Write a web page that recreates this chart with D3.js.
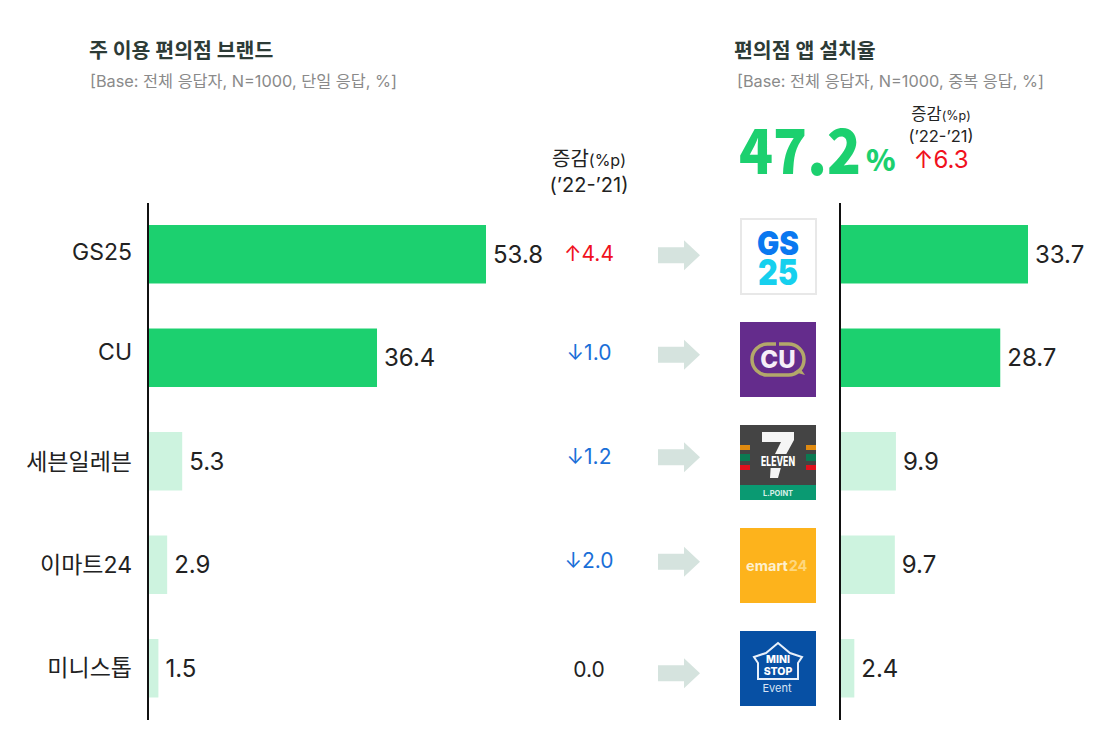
<!DOCTYPE html>
<html lang="ko">
<head>
<meta charset="UTF-8">
<title>편의점 브랜드</title>
<script src="https://d3js.org/d3.v7.min.js"></script>
<style>
  html, body { margin: 0; background: #fff; }
  svg { display: block; }
  text { font-family: Inter, "Noto Sans CJK KR", sans-serif; }
  text.big { font-family: "Noto Sans CJK KR", sans-serif; font-weight: 900; }
</style>
</head>
<body>
<svg id="chart" width="1116" height="730"></svg>
<script>
// values
const brands = ["GS25", "CU", "세븐일레븐", "이마트24", "미니스톱"];
const mainUse = [53.8, 36.4, 5.3, 2.9, 1.5];
const appInstall = [33.7, 28.7, 9.9, 9.7, 2.4];
const changes = [4.4, -1.0, -1.2, -2.0, 0.0];
const highlighted = ["GS25", "CU"];

const green = "#1cd06f", pale = "#cdf3df", ink = "#222", red = "#f0111d", blue = "#1a6fd8";
const svg = d3.select("#chart");

const y = d3.scaleBand().domain(brands).range([202.5, 720]).paddingInner(0.435).paddingOuter(0.2175);
const mid = d => y(d) + y.bandwidth() / 2;
const xLeft = d3.scaleLinear().domain([0, 53.8]).range([149, 486]);
const xRight = d3.scaleLinear().domain([0, 33.7]).range([841, 1028]);
const barFill = d => highlighted.includes(d) ? green : pale;

function bars(values, x) {
  const g = svg.append("g");
  g.selectAll("rect").data(brands).join("rect")
    .attr("x", x(0)).attr("y", d => y(d))
    .attr("width", (d, i) => x(values[i]) - x(0))
    .attr("height", y.bandwidth())
    .attr("fill", barFill);
  g.selectAll("text").data(brands).join("text")
    .attr("x", (d, i) => x(values[i]) + 7)
    .attr("y", d => mid(d) + 2)
    .attr("dominant-baseline", "middle")
    .attr("font-size", 24).attr("fill", ink)
    .text((d, i) => values[i].toFixed(1));
  // axis line only, no ticks
  g.append("line").attr("x1", x(0) - 1).attr("x2", x(0) - 1)
    .attr("y1", 203).attr("y2", 720)
    .attr("stroke", "#111").attr("stroke-width", 2);
}
bars(mainUse, xLeft);
bars(appInstall, xRight);

// brand names, the original labels sit a little off their bars
const brandNudge = [-1, -4, 2, 2, 1];
svg.append("g").selectAll("text").data(brands).join("text")
  .attr("x", 132).attr("y", (d, i) => mid(d) + brandNudge[i])
  .attr("text-anchor", "end").attr("dominant-baseline", "middle")
  .attr("font-size", 23).attr("fill", ink).text(d => d);

// titles
function title(x, subX, main, sub) {
  svg.append("text").attr("x", x).attr("y", 58).attr("font-size", 20.5)
    .attr("font-weight", 700).attr("fill", "#2d3b36").text(main);
  svg.append("text").attr("x", subX).attr("y", 87).attr("font-size", 16.3)
    .attr("fill", "#8a8a8a").text(sub);
}
title(89, 90, "주 이용 편의점 브랜드", "[Base: 전체 응답자, N=1000, 단일 응답, %]");
title(734, 737, "편의점 앱 설치율", "[Base: 전체 응답자, N=1000, 중복 응답, %]");

// change column
function changeHead(cx, y1, y2, size) {
  const t = svg.append("text").attr("x", cx).attr("y", y1).attr("text-anchor", "middle")
    .attr("font-size", size).attr("fill", ink);
  t.append("tspan").text("증감");
  t.append("tspan").attr("font-size", size - 4).text("(%p)");
  svg.append("text").attr("x", cx).attr("y", y2).attr("text-anchor", "middle")
    .attr("font-size", size).attr("fill", ink).text("(’22-’21)");
}
changeHead(589, 166, 192, 20);
changeHead(941, 120, 142, 16.5);

const changeNudge = [1, -3, -3, -2, 3];
const changeText = v => (v > 0 ? "↑" : v < 0 ? "↓" : "") + Math.abs(v).toFixed(1);
svg.append("g").selectAll("text").data(changes).join("text")
  .attr("x", 589).attr("y", (d, i) => mid(brands[i]) + changeNudge[i])
  .attr("text-anchor", "middle").attr("dominant-baseline", "middle")
  .attr("font-size", 21)
  .attr("fill", d => d > 0 ? red : d < 0 ? blue : ink)
  .text(changeText);

// big number
svg.append("text").attr("class", "big").attr("x", 739).attr("y", 174).attr("font-size", 61)
  .attr("textLength", 122).attr("lengthAdjust", "spacingAndGlyphs")
  .attr("fill", green).text("47.2");
svg.append("text").attr("class", "big").attr("x", 866).attr("y", 171).attr("font-size", 30)
  .attr("fill", green).text("%");
svg.append("text").attr("x", 941).attr("y", 168).attr("text-anchor", "middle")
  .attr("font-size", 24).attr("fill", red).text("↑6.3");

// block arrows between the two panels
const arrowNudge = [1, -3, -4, -3, 5];
svg.append("g").selectAll("path").data(brands).join("path")
  .attr("d", (b, i) => {
    const c = mid(b) + arrowNudge[i];
    return d3.line()([[658, c - 8], [684, c - 8], [684, c - 15], [700, c], [684, c + 15], [684, c + 8], [658, c + 8]]) + "Z";
  })
  .attr("fill", "#d5e3de");

// logos
const logoNudge = [0, 0, 0, -1, -1];
const logo = i => svg.append("g").attr("transform", `translate(740,${Math.round(mid(brands[i]) - 36) + logoNudge[i]})`);
const label = (g, x, yy, size, fill, txt, weight) => g.append("text").attr("x", x).attr("y", yy)
  .attr("text-anchor", "middle").attr("font-size", size).attr("font-weight", weight || 700)
  .attr("fill", fill).text(txt);

const gs = logo(0);
gs.append("rect").attr("x", 1).attr("y", 1).attr("width", 75).attr("height", 75)
  .attr("fill", "#fff").attr("stroke", "#e8e8e8").attr("stroke-width", 2);
label(gs, 38, 37, 33, "#0a78f0", "GS", 900).attr("textLength", 42).attr("lengthAdjust", "spacingAndGlyphs");
label(gs, 38, 67, 36, "#16d0ee", "25", 900).attr("textLength", 40).attr("lengthAdjust", "spacingAndGlyphs");

const cu = logo(1);
cu.append("rect").attr("width", 76).attr("height", 75).attr("fill", "#642c8c");
cu.append("rect").attr("x", 12).attr("y", 22).attr("width", 52).attr("height", 31).attr("rx", 15.5)
  .attr("fill", "none").attr("stroke", "#b3a86a").attr("stroke-width", 3.5);
cu.append("path").attr("d", d3.line()([[54, 50], [65, 53], [60, 46]]) + "Z").attr("fill", "#b3a86a");
cu.append("rect").attr("x", 36).attr("y", 19).attr("width", 3).attr("height", 6).attr("fill", "#642c8c");
label(cu, 38, 46, 24, "#f6eef8", "CU", 800);

const se = logo(2);
se.append("rect").attr("width", 76).attr("height", 75).attr("fill", "#444");
se.append("rect").attr("y", 60).attr("width", 76).attr("height", 15).attr("fill", "#0a9a72");
[["#e08a10", 20, 5], ["#0b7a52", 29, 7], ["#e0101c", 40, 5]].forEach(([c, top, h]) => {
  [0, 66].forEach(x => se.append("rect").attr("x", x).attr("y", top).attr("width", 10).attr("height", h).attr("fill", c));
});
se.append("path").attr("d", d3.line()([[22, 7], [54, 7], [54, 15], [43, 35], [38, 53], [30, 53], [31, 37], [41, 17], [22, 17]]) + "Z").attr("fill", "#f5f5f5");
se.append("rect").attr("x", 20).attr("y", 29).attr("width", 36).attr("height", 14).attr("fill", "#444");
label(se, 38, 41, 13, "#fff", "ELEVEN", 800).attr("textLength", 34).attr("lengthAdjust", "spacingAndGlyphs");
label(se, 38, 71, 7.5, "#d8f0e8", "L.POINT", 700);

const em = logo(3);
em.append("rect").attr("width", 76).attr("height", 75).attr("fill", "#fdb31c");
label(em, 27, 43, 14.5, "#fdf0cf", "emart", 700);
label(em, 58, 43, 14.5, "#fed77e", "24", 700);

const ms = logo(4);
ms.append("rect").attr("width", 76).attr("height", 75).attr("fill", "#0750a4");
ms.append("path").attr("d", d3.line()([[14, 26], [26, 22], [38, 12], [50, 22], [62, 26], [58, 32], [58, 48], [18, 48], [18, 32]]) + "Z")
  .attr("fill", "none").attr("stroke", "#e8f0fa").attr("stroke-width", 2);
label(ms, 38, 32, 10.5, "#fff", "MINI", 800);
label(ms, 38, 44, 10.5, "#fff", "STOP", 800);
label(ms, 37, 61, 11, "#d8e4f4", "Event", 400);
</script>
</body>
</html>
